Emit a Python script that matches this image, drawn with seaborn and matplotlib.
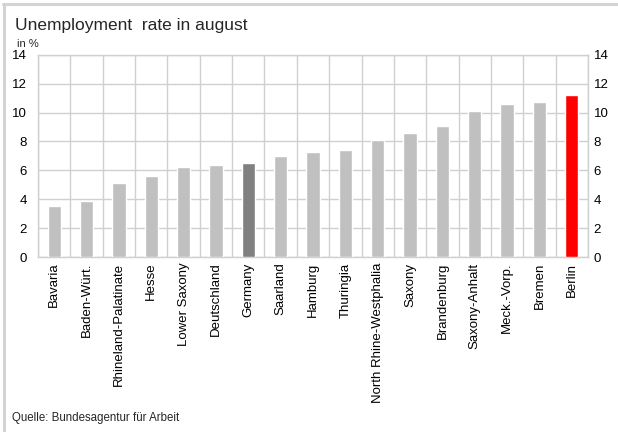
import matplotlib
matplotlib.use("Agg")
import matplotlib.pyplot as plt
from matplotlib.lines import Line2D
from matplotlib.ticker import FixedLocator
import seaborn as sns
import pandas as pd

regions = ["Bavaria", "Baden-Würt.", "Rhineland-Palatinate", "Hesse", "Lower Saxony",
           "Deutschland", "Germany", "Saarland", "Hamburg", "Thuringia",
           "North Rhine-Westphalia", "Saxony", "Brandenburg", "Saxony-Anhalt",
           "Meck.-Vorp.", "Bremen", "Berlin"]
rates = [3.5, 3.9, 5.1, 5.6, 6.2, 6.4, 6.5, 7.0, 7.3, 7.4, 8.1, 8.6, 9.1, 10.1, 10.6, 10.7, 11.2]
y_ticks = [0, 2, 4, 6, 8, 10, 12, 14]

highlight = {"Germany": "#808080", "Berlin": "#ff0000"}
palette = {r: highlight.get(r, "#c0c0c0") for r in regions}

df = pd.DataFrame({"region": regions, "rate": rates})

sns.set_theme(style="white")
plt.rcParams["font.family"] = ["Liberation Sans", "DejaVu Sans"]

fig = plt.figure(figsize=(6.18, 4.32), dpi=100)
ax = fig.add_axes([38 / 618, 1 - 257 / 432, 550 / 618, (257 - 54.7) / 432])

sns.barplot(data=df, x="region", y="rate", hue="region", palette=palette,
            width=0.41, legend=False, ax=ax, saturation=1, zorder=3)

ax.set_xlim(-0.5, len(regions) - 0.5)
ax.set_ylim(0, 14)
ax.yaxis.set_major_locator(FixedLocator(y_ticks))
ax.xaxis.set_minor_locator(FixedLocator([i - 0.5 for i in range(len(regions) + 1)]))

grid_c = "#d0d0d0"
ax.grid(True, axis="y", which="major", color=grid_c, linewidth=1, zorder=0)
ax.grid(True, axis="x", which="minor", color=grid_c, linewidth=1, zorder=0)
ax.grid(False, axis="x", which="major")
for s in ax.spines.values():
    s.set_color(grid_c)
    s.set_linewidth(1)

ax.set_xlabel("")
ax.set_ylabel("")
ax.tick_params(axis="x", which="both", length=0, pad=4, labelsize=9.5, colors="black",
               labelrotation=90)
ax.tick_params(axis="y", which="both", length=0, pad=8, labelsize=9.5, colors="black")

# duplicate value scale on the right-hand side
ax2 = ax.twinx()
ax2.set_ylim(ax.get_ylim())
ax2.yaxis.set_major_locator(FixedLocator(y_ticks))
ax2.tick_params(axis="y", length=0, pad=4, labelsize=9.5, colors="black")
ax2.grid(False)
for s in ax2.spines.values():
    s.set_visible(False)

fig.text(15 / 618, 1 - 30 / 432, "Unemployment  rate in august", fontsize=12.5,
         ha="left", va="baseline")
fig.text(17 / 618, 1 - 47 / 432, "in %", fontsize=8, ha="left", va="baseline")
fig.text(12 / 618, 1 - 421 / 432, "Quelle: Bundesagentur für Arbeit", fontsize=8.3,
         ha="left", va="baseline")

# outer frame: top and left edges only
frame_c = "#d3d3d3"
fig.add_artist(Line2D([3 / 618, 1.0], [1 - 4 / 432, 1 - 4 / 432], color=frame_c,
                      linewidth=2.2, transform=fig.transFigure))
fig.add_artist(Line2D([3.5 / 618, 3.5 / 618], [0, 1 - 4 / 432], color=frame_c,
                      linewidth=2.2, transform=fig.transFigure))

fig.savefig("out.png", dpi=100)
